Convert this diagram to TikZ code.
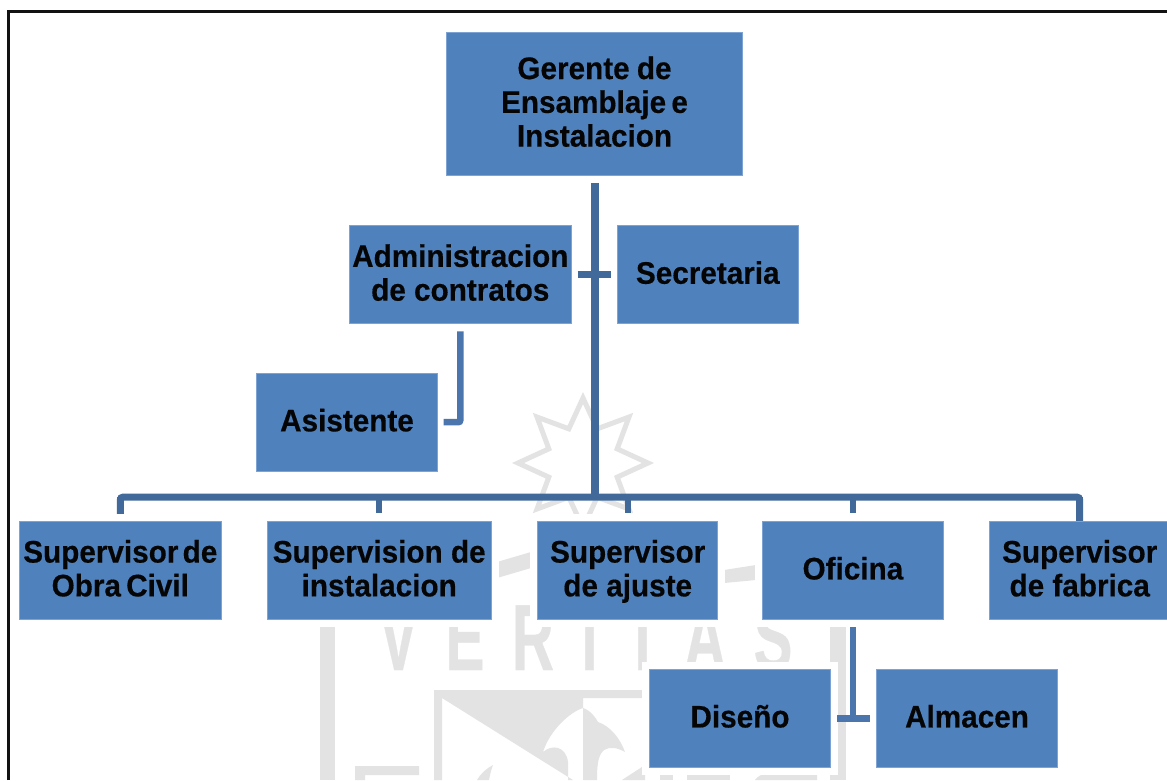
\documentclass[tikz,border=0pt]{standalone}
\usepackage{graphicx}
\usepackage{fontspec}
\setmainfont[BoldFeatures={FakeBold=0.4}]{Liberation Sans}
\definecolor{boxfill}{HTML}{4F81BD}
\definecolor{boxedge}{HTML}{7CA3D3}
\definecolor{linedark}{HTML}{41699A}
\definecolor{linemid}{HTML}{4A76AD}
\definecolor{wm}{HTML}{E3E3E3}
\definecolor{inktext}{HTML}{050505}
\tikzset{
  orgbox/.style={rectangle,fill=boxfill,draw=boxedge,line width=0.7pt,inner sep=0pt,
    minimum height=98pt,text=inktext,
    font=\fontsize{29.7}{32.2}\selectfont\bfseries,
    preaction={draw=white,line width=15pt}},
  conn/.style={draw=linedark,line width=7pt},
  connlight/.style={draw=linemid,line width=6.5pt},
  wmletter/.style={text=wm,anchor=base,inner sep=0pt,font=\fontsize{94}{94}\selectfont\bfseries},
}
\newcommand{\wmglyph}[1]{\scalebox{0.62}[1]{#1}}
\newcommand{\lbl}[1]{\raisebox{-2.4pt}[\height][\depth]{\scalebox{1}[1.05]{\begin{tabular}{@{}c@{}}#1\end{tabular}}}}
\begin{document}
\begin{tikzpicture}[x=1pt,y=-1pt]
\useasboundingbox (0,0) rectangle (1167,780);
\clip (0,0) rectangle (1167,780);
\fill[white] (0,0) rectangle (1167,780);
% watermark
\draw[wm,line width=5pt,miter limit=10,shift={(583,463)},yscale=-1]
  (90:65) -- (67.5:37) -- (45:65) -- (22.5:37) -- (0:65) -- (-22.5:37) -- (-45:65) -- (-67.5:37)
  -- (-90:65) -- (-112.5:37) -- (-135:65) -- (-157.5:37) -- (180:65) -- (157.5:37) -- (135:65) -- (112.5:37) -- cycle;
\fill[wm] (497,562) -- (531,552) -- (531,568) -- (497,578) -- cycle;
\fill[wm] (724,570) -- (756,565) -- (756,580) -- (724,583) -- cycle;
\fill[wm] (320,600) rectangle (335,780);
\fill[wm] (830,600) rectangle (846,780);
\node[wmletter] (wv) at (398.5,670) {\wmglyph{V}};
\node[wmletter] (we) at (465,670) {\wmglyph{E}};
\node[wmletter] (wr) at (533,670) {\wmglyph{R}};
\node[wmletter] (wi) at (589.5,670) {\wmglyph{I}};
\node[wmletter] (wt) at (642.5,670) {\wmglyph{T}};
\node[wmletter] (wa) at (705,670) {\wmglyph{A}};
\node[wmletter] (ws) at (773,670) {\wmglyph{S}};
% shield
\fill[wm] (434,690) -- (655,690) -- (655,698) -- (583,698) -- (583,708)
  .. controls (590,710) and (596,718) .. (598,722)
  .. controls (610,726) and (620,738) .. (625,752)
  .. controls (618,748) and (610,746) .. (604,750)
  .. controls (598,755) and (597,765) .. (597,780)
  -- (583,780) -- (583,708)
  .. controls (570,712) and (550,730) .. (543,752)
  .. controls (552,744) and (566,746) .. (568,762)
  -- (568,780) -- (573,780) -- (442,698) -- (442,780) -- (434,780) -- cycle;
\fill[wm] (355,766) -- (419,766) -- (419,775) -- (365,775) -- (365,780) -- (355,780) -- cycle;
\fill[wm] (493,765) .. controls (484,770) and (480,775) .. (477,780) -- (489,780) .. controls (490,775) and (491,770) .. (493,765) -- cycle;
\fill[wm] (645,765) -- (645,780) -- (622,780) -- cycle;
\fill[wm] (660,770) -- (673,770) -- (673,780) -- (660,780) -- cycle;
\fill[wm] (687,775) rectangle (730,780);
\fill[wm] (755,780) .. controls (760,772) and (775,772) .. (780,775) -- (817,775) -- (817,780) -- cycle;
% frame
\draw[draw=black!93,line width=2.7pt] (8.7,780) -- (8.7,11.3) -- (1167,11.3);
% boxes
\node[orgbox,minimum width=295.6pt,minimum height=143.6pt] (ger) at (594.5,103.7) {\lbl{Gerente\kern-1pt\ de\\Ensamblaje\kern-3pt\ e\\Instalacion}};
\node[orgbox,minimum width=222pt] (adm) at (460.3,274.6) {\lbl{Administracion\\de contratos}};
\node[orgbox,minimum width=180.3pt] (sec) at (707.8,274.6) {\lbl{Secretaria}};
\node[orgbox,minimum width=180.6pt] (asi) at (347,422.2) {\lbl{Asistente}};
\node[orgbox,minimum width=202pt] (obr) at (120.3,570.3) {\lbl{Supervisor\kern-4pt\ de\\Obra\kern-3pt\ Civil}};
\node[orgbox,minimum width=223.8pt] (ins) at (379.2,570.3) {\lbl{Supervision de\\instalacion}};
\node[orgbox,minimum width=180pt] (aju) at (627.7,570.3) {\lbl{Supervisor\\de ajuste}};
\node[orgbox,minimum width=180.3pt] (ofi) at (852.9,570.3) {\lbl{Oficina}};
\node[orgbox,minimum width=180.8pt] (fab) at (1079.7,570.3) {\lbl{Supervisor\\de fabrica}};
\node[orgbox,minimum width=180.6pt] (dis) at (740,718.3) {\lbl{Diseño}};
\node[orgbox,minimum width=180.6pt] (alm) at (967,718.3) {\lbl{Almacen}};
% connectors
\coordinate (bus) at (595.2,497);
\draw[conn,shorten <=7pt,rounded corners=3pt] (obr.north) -- (obr.north |- bus) -- (fab.north |- bus) -- (fab.north);
\draw[conn,shorten >=8pt,line width=6pt] (obr.north |- bus) -- (obr.north);
\draw[conn,shorten >=8pt,line width=6pt] (fab.north |- bus) -- (fab.north);
\draw[conn,shorten >=8pt,line width=6pt] (ins.north |- bus) -- (ins.north);
\draw[conn,shorten >=8pt,line width=6pt] (aju.north |- bus) -- (aju.north);
\draw[conn,shorten >=8pt,line width=6pt] (ofi.north |- bus) -- (ofi.north);
\draw[conn,line width=8pt,shorten <=7pt] (bus |- ger.south) -- (bus);
\draw[conn,shorten <=6pt,shorten >=6pt] (adm.east) -- (sec.west);
\draw[connlight,shorten <=7.5pt,shorten >=6pt,rounded corners=2pt] (adm.south) -- (adm.south |- asi.east) -- (asi.east);
\draw[connlight,shorten <=7.5pt] (ofi.south) -- (ofi.south |- dis.east);
\draw[connlight,shorten <=6.5pt,shorten >=6.5pt] (dis.east) -- (alm.west);
\end{tikzpicture}
\end{document}
